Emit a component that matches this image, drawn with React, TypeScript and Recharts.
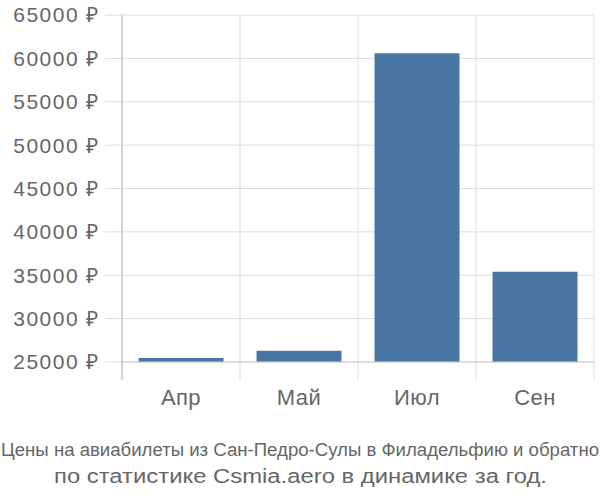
import { BarChart, Bar, XAxis, YAxis, CartesianGrid, ReferenceLine } from "recharts";

const months = ["Апр", "Май", "Июл", "Сен"];
const prices = [25450, 26300, 60600, 35400];
const yTicks = [25000, 30000, 35000, 40000, 45000, 50000, 55000, 60000, 65000];
const baseline = 25000;
const yDomain = [22925, 65000];

const data = months.map((m, i) => ({ month: m, range: [baseline, prices[i]] }));

const font = "'Liberation Sans', Arial, sans-serif";

export default function App() {
  return (
    <div style={{ position: "absolute", left: 0, top: 0, width: 600, height: 500, background: "#fff" }}>
      <BarChart
        width={600}
        height={430}
        data={data}
        barCategoryGap="14%"
        margin={{ top: 15, right: 6, left: 0, bottom: 0 }}
      >
        <CartesianGrid
          stroke="#dddddd"
          horizontalCoordinatesGenerator={({ offset }: any) =>
            yTicks.map(
              (t) => offset.top + ((yDomain[1] - t) / (yDomain[1] - yDomain[0])) * offset.height
            )
          }
          verticalCoordinatesGenerator={({ offset }: any) =>
            months.map((_, i) => offset.left + ((i + 1) * offset.width) / months.length)
          }
        />
        <XAxis
          dataKey="month"
          axisLine={false}
          tickLine={false}
          height={50}
          tick={{ fontSize: 22, fill: "#666", fontFamily: font, letterSpacing: 0.4 }}
          tickMargin={3}
        />
        <YAxis
          domain={yDomain}
          ticks={yTicks}
          allowDataOverflow
          width={122}
          tickSize={17}
          tickMargin={5}
          tickLine={{ stroke: "#dddddd" }}
          axisLine={{ stroke: "#aaaaaa" }}
          tick={{ fontSize: 21, fill: "#666", fontFamily: font, letterSpacing: 1.5 }}
          tickFormatter={(v: number) => `${v} ₽`}
        />
        <ReferenceLine y={baseline} stroke="#cccccc" />
        <Bar dataKey="range" fill="#4a76a6" isAnimationActive={false} />
      </BarChart>
      <svg width={600} height={70} style={{ position: "absolute", left: 0, top: 430 }}>
        <text
          x={1}
          y={26}
          textLength={598}
          lengthAdjust="spacingAndGlyphs"
          fontFamily={font}
          fontSize={18}
          fill="#666"
        >
          Цены на авиабилеты из Сан-Педро-Сулы в Филадельфию и обратно
        </text>
        <text
          x={54}
          y={53}
          textLength={493}
          lengthAdjust="spacingAndGlyphs"
          fontFamily={font}
          fontSize={20}
          fill="#666"
        >
          по статистике Csmia.aero в динамике за год.
        </text>
      </svg>
    </div>
  );
}
